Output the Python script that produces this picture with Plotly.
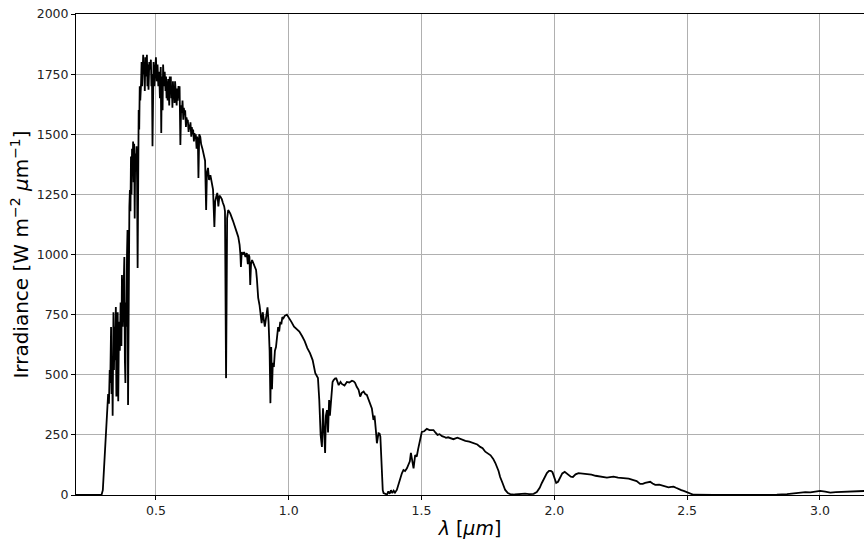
import plotly.graph_objects as go

# Solar spectral irradiance, wavelength in micrometres
wavelength_um = [
    0.199, 0.295, 0.300, 0.305, 0.310, 0.314, 0.318, 0.320, 0.323, 0.326, 0.328, 0.331,
    0.333, 0.335, 0.337, 0.340, 0.342, 0.344, 0.346, 0.349, 0.351, 0.353, 0.356, 0.358,
    0.361, 0.364, 0.367, 0.370, 0.372, 0.375, 0.378, 0.381, 0.383, 0.385, 0.387, 0.389,
    0.391, 0.393, 0.395, 0.397, 0.400, 0.402, 0.404, 0.406, 0.408, 0.410, 0.412, 0.414,
    0.416, 0.418, 0.420, 0.422, 0.424, 0.427, 0.429, 0.431, 0.433, 0.435, 0.437, 0.439,
    0.441, 0.444, 0.446, 0.448, 0.450, 0.452, 0.454, 0.456, 0.458, 0.460, 0.462, 0.464,
    0.466, 0.468, 0.470, 0.472, 0.475, 0.478, 0.481, 0.483, 0.485, 0.487, 0.489, 0.491,
    0.494, 0.497, 0.500, 0.503, 0.506, 0.509, 0.512, 0.515, 0.518, 0.520, 0.522, 0.525,
    0.527, 0.530, 0.533, 0.536, 0.538, 0.540, 0.542, 0.544, 0.546, 0.548, 0.550, 0.552,
    0.554, 0.556, 0.558, 0.560, 0.562, 0.564, 0.566, 0.568, 0.570, 0.572, 0.574, 0.576,
    0.578, 0.580, 0.582, 0.585, 0.587, 0.589, 0.592, 0.595, 0.598, 0.600, 0.603, 0.605,
    0.608, 0.610, 0.613, 0.615, 0.618, 0.620, 0.623, 0.625, 0.628, 0.630, 0.633, 0.635,
    0.638, 0.640, 0.643, 0.645, 0.648, 0.650, 0.653, 0.655, 0.658, 0.660, 0.663, 0.667,
    0.670, 0.675, 0.680, 0.685, 0.689, 0.692, 0.696, 0.700, 0.705, 0.710, 0.715, 0.720,
    0.723, 0.727, 0.731, 0.735, 0.739, 0.743, 0.748, 0.752, 0.757, 0.760, 0.762, 0.764,
    0.766, 0.768, 0.772, 0.780, 0.790, 0.800, 0.805, 0.810, 0.815, 0.818, 0.820, 0.823,
    0.827, 0.832, 0.837, 0.842, 0.846, 0.849, 0.852, 0.855, 0.858, 0.862, 0.867, 0.872,
    0.877, 0.880, 0.885, 0.890, 0.895, 0.898, 0.902, 0.906, 0.910, 0.915, 0.920, 0.924,
    0.928, 0.931, 0.934, 0.937, 0.940, 0.944, 0.948, 0.952, 0.956, 0.960, 0.964, 0.968,
    0.972, 0.976, 0.980, 0.985, 0.993, 1.000, 1.010, 1.020, 1.030, 1.040, 1.050, 1.060,
    1.070, 1.080, 1.090, 1.100, 1.110, 1.115, 1.120, 1.125, 1.129, 1.133, 1.137, 1.140,
    1.144, 1.148, 1.152, 1.155, 1.160, 1.165, 1.169, 1.175, 1.179, 1.185, 1.188, 1.195,
    1.200, 1.210, 1.219, 1.228, 1.238, 1.245, 1.250, 1.256, 1.263, 1.269, 1.275, 1.282,
    1.288, 1.294, 1.300, 1.307, 1.313, 1.319, 1.323, 1.328, 1.332, 1.338, 1.342, 1.345,
    1.348, 1.351, 1.354, 1.357, 1.365, 1.370, 1.375, 1.380, 1.385, 1.390, 1.395, 1.400,
    1.407, 1.413, 1.420, 1.426, 1.432, 1.438, 1.445, 1.451, 1.456, 1.460, 1.465, 1.470,
    1.476, 1.482, 1.487, 1.492, 1.497, 1.501, 1.510, 1.520, 1.530, 1.540, 1.545, 1.552,
    1.560, 1.568, 1.577, 1.585, 1.592, 1.600, 1.608, 1.620, 1.635, 1.650, 1.665, 1.680,
    1.695, 1.710, 1.721, 1.730, 1.740, 1.746, 1.760, 1.770, 1.778, 1.790, 1.796, 1.805,
    1.815, 1.825, 1.834, 1.850, 1.870, 1.890, 1.905, 1.922, 1.934, 1.945, 1.953, 1.963,
    1.972, 1.980, 1.987, 1.993, 1.997, 2.002, 2.007, 2.014, 2.022, 2.030, 2.039, 2.047,
    2.054, 2.062, 2.070, 2.080, 2.091, 2.105, 2.123, 2.140, 2.155, 2.173, 2.185, 2.198,
    2.210, 2.223, 2.240, 2.260, 2.280, 2.298, 2.310, 2.323, 2.333, 2.342, 2.352, 2.361,
    2.370, 2.380, 2.395, 2.408, 2.417, 2.430, 2.440, 2.449, 2.458, 2.468, 2.478, 2.487,
    2.495, 2.505, 2.515, 2.524, 2.600, 2.700, 2.800, 2.838, 2.876, 2.905, 2.926, 2.945,
    2.964, 2.985, 3.001, 3.020, 3.039, 3.060, 3.080, 3.102, 3.130, 3.164, 3.200,
]

irradiance = [
    0, 0, 20, 110, 200, 300, 350, 420, 380, 520, 466, 698,
    420, 560, 330, 760, 520, 700, 560, 782, 410, 650, 760, 390,
    720, 600, 800, 620, 915, 700, 820, 990, 560, 466, 800, 700,
    1000, 1102, 374, 900, 1200, 1268, 1180, 1407, 1250, 1440, 1350, 1470,
    1300, 1460, 1150, 1420, 1350, 1450, 1300, 944, 1400, 1601, 1520, 1700,
    1640, 1712, 1800, 1700, 1820, 1830, 1750, 1800, 1680, 1820, 1740, 1800,
    1830, 1700, 1790, 1685, 1800, 1770, 1810, 1700, 1750, 1450, 1720, 1800,
    1700, 1780, 1820, 1720, 1790, 1700, 1760, 1650, 1780, 1505, 1740, 1600,
    1790, 1700, 1760, 1680, 1740, 1650, 1720, 1640, 1730, 1690, 1620, 1740,
    1680, 1740, 1650, 1700, 1610, 1720, 1660, 1700, 1630, 1720, 1660, 1680,
    1620, 1690, 1640, 1700, 1650, 1700, 1455, 1620, 1590, 1640, 1560, 1610,
    1580, 1600, 1530, 1570, 1550, 1560, 1510, 1540, 1520, 1550, 1490, 1530,
    1500, 1520, 1470, 1505, 1480, 1500, 1440, 1490, 1470, 1318, 1500, 1489,
    1460, 1440, 1420, 1390, 1185, 1340, 1360, 1310, 1330, 1300, 1270, 1114,
    1220, 1240, 1256, 1200, 1245, 1240, 1230, 1215, 1200, 1180, 900, 486,
    800, 1150, 1185, 1170, 1140, 1100, 1090, 1073, 1040, 1000, 948, 1010,
    1000, 1010, 990, 1006, 960, 1000, 990, 873, 960, 977, 960, 950,
    936, 900, 820, 790, 740, 715, 760, 730, 700, 740, 780, 720,
    600, 382, 615, 440, 550, 532, 600, 615, 650, 698, 680, 720,
    710, 740, 735, 745, 750, 735, 720, 700, 690, 680, 661, 640,
    611, 590, 561, 507, 486, 395, 250, 200, 361, 270, 175, 330,
    353, 260, 395, 330, 420, 470, 478, 485, 485, 460, 457, 470,
    462, 455, 470, 468, 475, 472, 466, 450, 437, 409, 425, 430,
    420, 416, 400, 382, 360, 312, 330, 270, 215, 257, 255, 243,
    150, 104, 20, 8, 4, 2, 15, 5, 20, 8, 18, 10,
    21, 45, 69, 90, 104, 100, 111, 125, 140, 175, 140, 111,
    166, 160, 190, 215, 250, 262, 265, 275, 270, 272, 270, 260,
    250, 253, 245, 242, 238, 240, 236, 232, 238, 230, 225, 222,
    216, 210, 200, 195, 180, 175, 165, 150, 133, 100, 75, 50,
    21, 8, 4, 2, 4, 6, 4, 5, 12, 30, 50, 70,
    91, 100, 100, 95, 83, 65, 50, 55, 75, 90, 96, 90,
    82, 76, 75, 86, 91, 90, 87, 85, 80, 76, 73, 72,
    74, 76, 72, 70, 68, 62, 58, 46, 46, 50, 52, 55,
    48, 42, 43, 40, 37, 32, 34, 35, 30, 24, 20, 17,
    14, 11, 5, 1, 0, 0, 0, 1, 4, 8, 11, 12,
    11, 14, 17, 14, 10, 12, 13, 11, 13, 17, 18,
]

x_ticks = [0.5, 1.0, 1.5, 2.0, 2.5, 3.0]
x_tick_labels = ["0.5", "1.0", "1.5", "2.0", "2.5", "3.0"]
y_ticks = [0, 250, 500, 750, 1000, 1250, 1500, 1750, 2000]

FONT = "DejaVu Sans"

fig = go.Figure(
    go.Scatter(
        x=wavelength_um,
        y=irradiance,
        mode="lines",
        line=dict(color="black", width=1.8),
        showlegend=False,
        hoverinfo="x+y",
    )
)

fig.update_layout(
    width=864,
    height=539,
    margin=dict(l=76, r=0, t=14, b=44),
    paper_bgcolor="white",
    plot_bgcolor="white",
    font=dict(family=FONT, color="black"),
)

fig.update_xaxes(
    range=[0.199, 3.166],
    tickvals=x_ticks,
    ticktext=x_tick_labels,
    ticks="outside",
    ticklen=4,
    tickwidth=1,
    tickcolor="black",
    tickfont=dict(family=FONT, size=12.5, color="#222"),
    showline=True,
    linecolor="black",
    linewidth=1,
    mirror=True,
    showgrid=True,
    gridcolor="#b0b0b0",
    gridwidth=1,
    zeroline=False,
    title=dict(
        text="<i>λ</i> [<i>μm</i>]",
        font=dict(family=FONT, size=19, color="black"),
        standoff=7,
    ),
)

fig.update_yaxes(
    range=[0, 2000],
    tickvals=y_ticks,
    ticks="outside",
    ticklen=4,
    tickwidth=1,
    tickcolor="black",
    tickfont=dict(family=FONT, size=12.5, color="#222"),
    showline=True,
    linecolor="black",
    linewidth=1,
    showgrid=True,
    gridcolor="#b0b0b0",
    gridwidth=1,
    zeroline=False,
    title=dict(
        text="Irradiance [W m<sup>−2</sup> <i>μ</i>m<sup>−1</sup>]",
        font=dict(family=FONT, size=20, color="black"),
        standoff=2,
    ),
)

fig.write_html("out.html")
